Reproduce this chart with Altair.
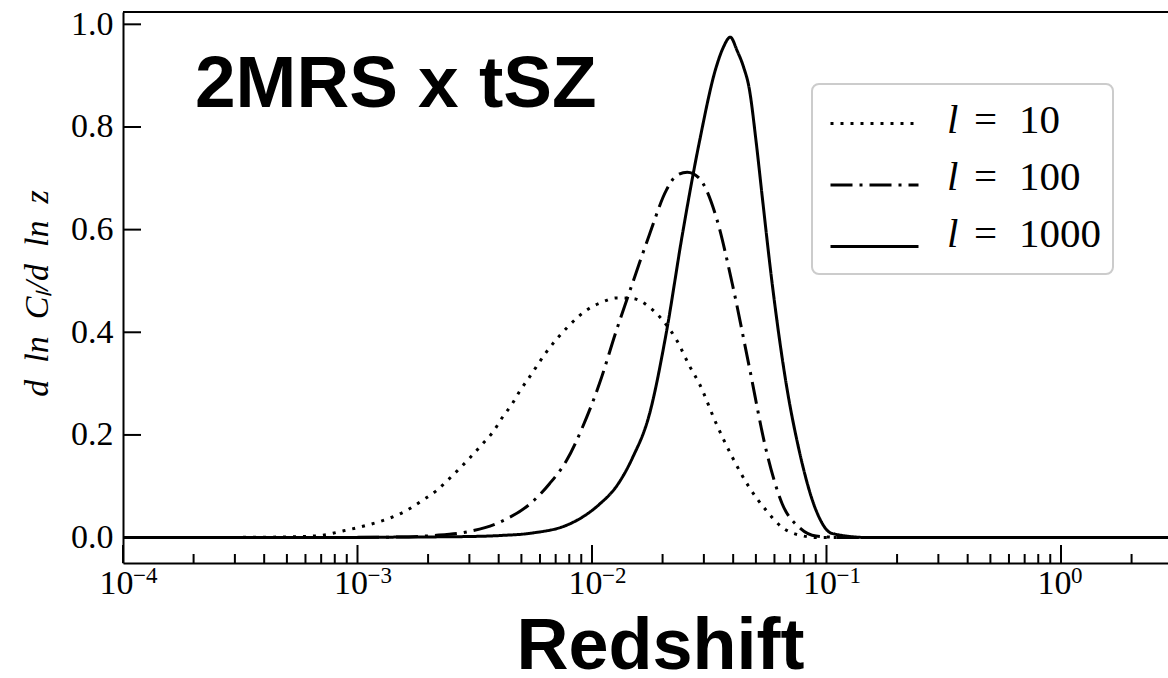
import altair as alt
import pandas as pd

# Redshift sampling points and d ln C_l / d ln z for each multipole
z_l10 = [1e-4, 3.48e-4, 5.69e-4, 6.92e-4, 8.67e-4, 1.096e-3, 1.374e-3, 1.623e-3,
         1.898e-3, 2.178e-3, 2.402e-3, 2.729e-3, 3.010e-3, 3.418e-3, 3.771e-3,
         4.159e-3, 4.588e-3, 4.913e-3, 5.418e-3, 6.40e-3, 7.787e-3, 9.759e-3,
         1.108e-2, 1.272e-2, 1.487e-2, 1.757e-2, 1.995e-2, 2.289e-2, 2.601e-2,
         2.868e-2, 3.388e-2, 3.963e-2, 4.683e-2, 5.533e-2, 6.471e-2, 7.644e-2,
         9.30e-2, 0.1248, 2.86]
v_l10 = [0.0, 0.0005, 0.002, 0.004, 0.013, 0.024, 0.038, 0.053,
         0.073, 0.092, 0.11, 0.135, 0.155, 0.183, 0.205,
         0.235, 0.262, 0.285, 0.313, 0.362, 0.408, 0.447,
         0.459, 0.467, 0.466, 0.449, 0.424, 0.386, 0.335,
         0.30, 0.222, 0.157, 0.098, 0.053, 0.02, 0.005,
         0.0, 0.0, 0.0]

z_l100 = [1e-4, 5.69e-4, 1.516e-3, 2.094e-3, 2.921e-3, 4.038e-3, 5.58e-3, 6.59e-3,
          7.787e-3, 9.11e-3, 1.076e-2, 1.272e-2, 1.487e-2, 1.757e-2, 2.076e-2,
          2.289e-2, 2.55e-2, 2.868e-2, 3.388e-2, 3.963e-2, 4.683e-2, 5.533e-2,
          6.471e-2, 7.644e-2, 9.03e-2, 0.1248, 2.86]
v_l100 = [0.0, 0.0, 0.001, 0.004, 0.011, 0.03, 0.07, 0.105,
          0.15, 0.215, 0.30, 0.404, 0.495, 0.59, 0.677,
          0.705, 0.712, 0.70, 0.624, 0.495, 0.333, 0.17,
          0.066, 0.02, 0.003, 0.0, 0.0]

z_l1000 = [1e-4, 5.69e-4, 1.516e-3, 2.921e-3, 4.038e-3, 5.58e-3, 7.787e-3, 9.11e-3,
           1.076e-2, 1.272e-2, 1.487e-2, 1.757e-2, 2.076e-2, 2.428e-2, 2.868e-2,
           3.388e-2, 3.63e-2, 3.887e-2, 4.164e-2, 4.42e-2, 4.683e-2, 5.015e-2,
           5.318e-2, 5.866e-2, 6.73e-2, 7.644e-2, 9.03e-2, 0.1056, 0.1519, 2.86]
v_l1000 = [0.0, 0.0, 0.001, 0.002, 0.004, 0.009, 0.024, 0.04,
           0.065, 0.10, 0.155, 0.24, 0.40, 0.59, 0.77,
           0.917, 0.955, 0.975, 0.948, 0.918, 0.875, 0.77,
           0.665, 0.495, 0.30, 0.17, 0.053, 0.008, 0.0, 0.0]

series_labels = ["l = 10", "l = 100", "l = 1000"]
legend_numbers = ["10", "100", "1000"]
series_dashes = [[3, 7], [22, 7, 3, 7], [1, 0]]

# Axis tick positions and labels
x_major = [1e-4, 1e-3, 1e-2, 1e-1, 1e0]
x_exponents = ["\u22124", "\u22123", "\u22122", "\u22121", "0"]
x_minor = [m * 10.0 ** e for e in range(-4, 0) for m in range(2, 10)] + [2.0]
y_major = [0.0, 0.2, 0.4, 0.6, 0.8, 1.0]

X_DOMAIN = [1e-4, 2.86]
Y_DOMAIN = [-0.0495, 1.024]
W, H = 1045, 551

rows = []
for lab, zs, vs in zip(series_labels, [z_l10, z_l100, z_l1000], [v_l10, v_l100, v_l1000]):
    for z, v in zip(zs, vs):
        rows.append({"z": z, "v": v, "series": lab})
df = pd.DataFrame(rows)

xscale = alt.Scale(type="log", domain=X_DOMAIN, nice=False)
yscale = alt.Scale(domain=Y_DOMAIN, nice=False, zero=False)

serif = "Liberation Serif"
sans = "Liberation Sans"

x_axis = alt.Axis(values=x_major, labelExpr="'10'", ticks=False, grid=False,
                  labelFont=serif, labelFontSize=34, labelPadding=3,
                  labelAlign="right", labelOffset=10,
                  labelColor="black", domainColor="black", domainWidth=2,
                  labelFlush=False, labelOverlap=False,
                  title="Redshift", titleFont=sans, titleFontWeight="bold",
                  titleFontSize=72, titleColor="black", titleX=537, titleY=105,
                  titleAlign="center", titleBaseline="alphabetic")
y_axis = alt.Axis(values=y_major, format=".1f", ticks=False, grid=False,
                  labelFont=serif, labelFontSize=34, labelPadding=10,
                  labelColor="black", domainColor="black", domainWidth=2,
                  title="d\u2002ln\u2002C\u2097/d\u2002ln\u2002z", titleFont=serif,
                  titleFontWeight="normal", titleFontStyle="italic",
                  titleFontSize=34, titleColor="black", titleX=-76, titleY=281,
                  titleAngle=270, titleAlign="center", titleBaseline="alphabetic")

lines = alt.Chart(df).mark_line(strokeWidth=3, color="black", interpolate="monotone", clip=True).encode(
    x=alt.X("z:Q", scale=xscale, axis=x_axis),
    y=alt.Y("v:Q", scale=yscale, axis=y_axis),
    strokeDash=alt.StrokeDash("series:N", sort=series_labels,
                              scale=alt.Scale(domain=series_labels, range=series_dashes),
                              legend=alt.Legend(orient="none", legendX=706, legendY=66, title=None,
                                                symbolType="stroke", symbolSize=7744,
                                                symbolStrokeWidth=3, symbolStrokeColor="black",
                                                labelExpr="''", labelFontSize=10,
                                                rowPadding=9.5, padding=0, zindex=2)),
)

xmaj_df = pd.DataFrame({"t": x_major, "e": x_exponents})
xmin_df = pd.DataFrame({"t": x_minor})
ymaj_df = pd.DataFrame({"t": y_major})
one_df = pd.DataFrame({"k": [0]})

# inward-pointing tick marks along the bottom and left spines
x_major_ticks = alt.Chart(xmaj_df).mark_rule(color="black", strokeWidth=2).encode(
    x=alt.X("t:Q", scale=xscale, axis=x_axis), y=alt.value(H), y2=alt.value(H - 18))
x_minor_ticks = alt.Chart(xmin_df).mark_rule(color="black", strokeWidth=2).encode(
    x=alt.X("t:Q", scale=xscale, axis=x_axis), y=alt.value(H), y2=alt.value(H - 9))
y_major_ticks = alt.Chart(ymaj_df).mark_rule(color="black", strokeWidth=2).encode(
    y=alt.Y("t:Q", scale=yscale, axis=y_axis), x=alt.value(0), x2=alt.value(18))
top_frame = alt.Chart(one_df).mark_rule(color="black", strokeWidth=2).encode(
    x=alt.value(0), x2=alt.value(W + 10), y=alt.value(0))

# superscript exponents of the power-of-ten tick labels
x_exp_text = alt.Chart(xmaj_df).mark_text(
    font=serif, fontSize=23, color="black", align="left", baseline="alphabetic", dx=10).encode(
    x=alt.X("t:Q", scale=xscale, axis=x_axis), y=alt.value(H + 20), text="e:N")

# legend frame and entry texts
legend_box = alt.Chart(one_df).mark_rect(
    fill="white", stroke="#cccccc", strokeWidth=2, cornerRadius=7).encode(
    x=alt.value(689), x2=alt.value(990), y=alt.value(72), y2=alt.value(262))

legend_texts = []
for i, num in enumerate(legend_numbers):
    base = 121 + 57 * i
    legend_texts.append(alt.Chart(one_df).mark_text(
        text="l", font=serif, fontStyle="italic", fontSize=41, color="black",
        align="left", baseline="alphabetic").encode(x=alt.value(824), y=alt.value(base)))
    legend_texts.append(alt.Chart(one_df).mark_text(
        text="=", font=serif, fontSize=41, color="black",
        align="left", baseline="alphabetic").encode(x=alt.value(851), y=alt.value(base)))
    legend_texts.append(alt.Chart(one_df).mark_text(
        text=num, font=serif, fontSize=41, color="black",
        align="left", baseline="alphabetic").encode(x=alt.value(896), y=alt.value(base)))

title_text = alt.Chart(one_df).mark_text(
    text="2MRS x tSZ", font=sans, fontWeight="bold", fontSize=73, color="black",
    align="left", baseline="alphabetic").encode(
    x=alt.value(72), y=alt.value(95))

chart = alt.layer(lines, x_major_ticks, x_minor_ticks, y_major_ticks, top_frame, x_exp_text,
                  legend_box, *legend_texts, title_text).properties(
    width=W, height=H,
    autosize=alt.AutoSizeParams(type="none"),
    padding={"left": 123, "top": 12, "right": 0, "bottom": 115},
).configure(background="white").configure_view(strokeWidth=0)

chart.save("out.html", embed_options={"renderer": "svg", "actions": False})
